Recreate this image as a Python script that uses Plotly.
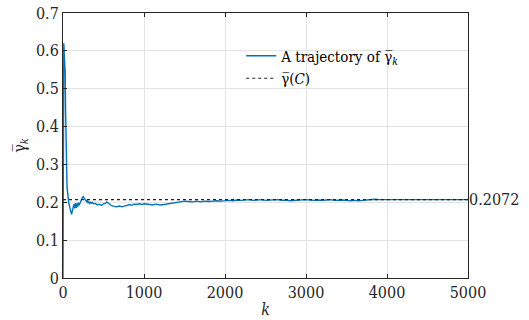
import plotly.graph_objects as go

# trajectory of running average gamma_bar_k
k_vals = [0, 3, 6, 10, 14, 18, 22, 27, 32, 37, 42, 46, 50, 55, 60, 65, 70, 75, 80, 85,
          90, 95, 100, 105, 110, 115, 120, 125, 130, 135, 140, 145, 150, 155, 160, 165,
          170, 175, 180, 185, 190, 195, 200, 210, 220, 230, 240, 250, 260, 270, 280, 290,
          300, 310, 320, 330, 340, 350, 360, 375, 400, 425, 450, 475, 500, 525, 540, 560,
          580, 600, 625, 650, 675, 700, 725, 750, 775, 800, 825, 850, 875, 900, 925, 950,
          975, 1000, 1050, 1100, 1150, 1200, 1250, 1300, 1350, 1400, 1450, 1500, 1550,
          1600, 1650, 1700, 1750, 1800, 1850, 1900, 1950, 2000, 2050, 2100, 2150, 2200,
          2250, 2300, 2350, 2400, 2450, 2500, 2550, 2600, 2650, 2700, 2750, 2800, 2850,
          2900, 2950, 3000, 3050, 3100, 3150, 3200, 3250, 3300, 3350, 3400, 3450, 3500,
          3550, 3600, 3650, 3700, 3750, 3800, 3850, 3900, 3950, 4000, 4050, 4100, 4150,
          4200, 4250, 4300, 4350, 4400, 4450, 4500, 4550, 4600, 4650, 4700, 4750, 4800,
          4850, 4900, 4950, 5000]
gamma_vals = [0.0, 0.30, 0.50, 0.62, 0.60, 0.58, 0.56, 0.545, 0.44, 0.36, 0.29, 0.25, 0.24,
              0.23, 0.21, 0.215, 0.20, 0.195, 0.19, 0.185, 0.178, 0.174, 0.171, 0.168, 0.172,
              0.178, 0.182, 0.190, 0.186, 0.195, 0.188, 0.184, 0.193, 0.198, 0.190, 0.185,
              0.192, 0.197, 0.188, 0.193, 0.199, 0.195, 0.192, 0.198, 0.204, 0.209, 0.213,
              0.215, 0.212, 0.209, 0.206, 0.202, 0.205, 0.199, 0.201, 0.197, 0.200, 0.198,
              0.200, 0.196, 0.197, 0.193, 0.195, 0.192, 0.196, 0.197, 0.201, 0.197, 0.194,
              0.191, 0.190, 0.188, 0.189, 0.190, 0.188, 0.189, 0.191, 0.192, 0.194, 0.192,
              0.195, 0.194, 0.195, 0.196, 0.194, 0.196, 0.195, 0.193, 0.195, 0.193, 0.194,
              0.196, 0.197, 0.198, 0.201, 0.203, 0.202, 0.201, 0.203, 0.201, 0.203, 0.202,
              0.203, 0.204, 0.203, 0.204, 0.205, 0.204, 0.206, 0.205, 0.206, 0.207, 0.205,
              0.206, 0.207, 0.205, 0.206, 0.206, 0.207, 0.205, 0.206, 0.204, 0.205, 0.206,
              0.206, 0.207, 0.206, 0.205, 0.206, 0.205, 0.206, 0.207, 0.205, 0.206, 0.206,
              0.205, 0.204, 0.205, 0.204, 0.205, 0.206, 0.207, 0.208, 0.207, 0.207, 0.206,
              0.207, 0.206, 0.206, 0.207, 0.207, 0.206, 0.207, 0.206, 0.207, 0.207, 0.206,
              0.207, 0.207, 0.207, 0.206, 0.207, 0.207, 0.207, 0.207, 0.207]

gamma_C = 0.2072
x_ticks = [0, 1000, 2000, 3000, 4000, 5000]
y_ticks = [0, 0.1, 0.2, 0.3, 0.4, 0.5, 0.6, 0.7]

FONT = "DejaVu Serif Condensed, DejaVu Serif"
AX = "#262626"
GRID = "#e3e3e3"
GB = "\u03b3\u0305"  # gamma with overline

fig = go.Figure()
fig.add_trace(go.Scatter(x=k_vals, y=gamma_vals, mode="lines",
                         line=dict(color="#0072BD", width=1.4),
                         name="A trajectory of " + GB + "<sub><i>k</i></sub>"))
fig.add_trace(go.Scatter(x=[x_ticks[0], x_ticks[-1]], y=[gamma_C, gamma_C], mode="lines",
                         line=dict(color="#222222", width=1.2, dash="dot"),
                         name=GB + "(<i>C</i>)"))
# invisible trace for right-side axis label
fig.add_trace(go.Scatter(x=[x_ticks[0]], y=[gamma_C], yaxis="y2", mode="markers",
                         marker=dict(opacity=0), showlegend=False, hoverinfo="skip"))

axis_common = dict(showline=True, linecolor=AX, linewidth=1, ticks="inside", ticklen=4,
                   tickcolor=AX, showgrid=True, gridcolor=GRID, gridwidth=1,
                   zeroline=False, automargin=False,
                   tickfont=dict(family=FONT, size=16, color=AX))

fig.update_layout(
    width=529, height=320,
    margin=dict(l=63, r=61, t=13, b=42),
    paper_bgcolor="white", plot_bgcolor="white",
    font=dict(family=FONT, size=16, color=AX),
    xaxis=dict(range=[0, 5000], tickvals=x_ticks, mirror="ticks",
               title=dict(text="<i>k</i>", standoff=2, font=dict(family=FONT, size=16)),
               **axis_common),
    yaxis=dict(range=[0, 0.7], tickvals=y_ticks, ticktext=[f"{v:g}" for v in y_ticks],
               mirror=True,
               title=dict(text=GB + "<sub><i>k</i></sub>", standoff=6,
                          font=dict(family=FONT, size=16)),
               **axis_common),
    yaxis2=dict(overlaying="y", side="right", range=[0, 0.7], tickvals=[gamma_C],
                ticktext=[f"{gamma_C:.4f}"], ticks="inside", ticklen=4, tickcolor=AX,
                showgrid=False, zeroline=False, showline=False, automargin=False,
                tickfont=dict(family=FONT, size=16, color=AX)),
    legend=dict(x=0.44, y=0.90, xanchor="left", yanchor="top", bgcolor="rgba(0,0,0,0)",
                font=dict(family=FONT, size=15, color="black"), itemwidth=30,
                tracegroupgap=0),
    showlegend=True,
)

fig.write_html("out.html")
